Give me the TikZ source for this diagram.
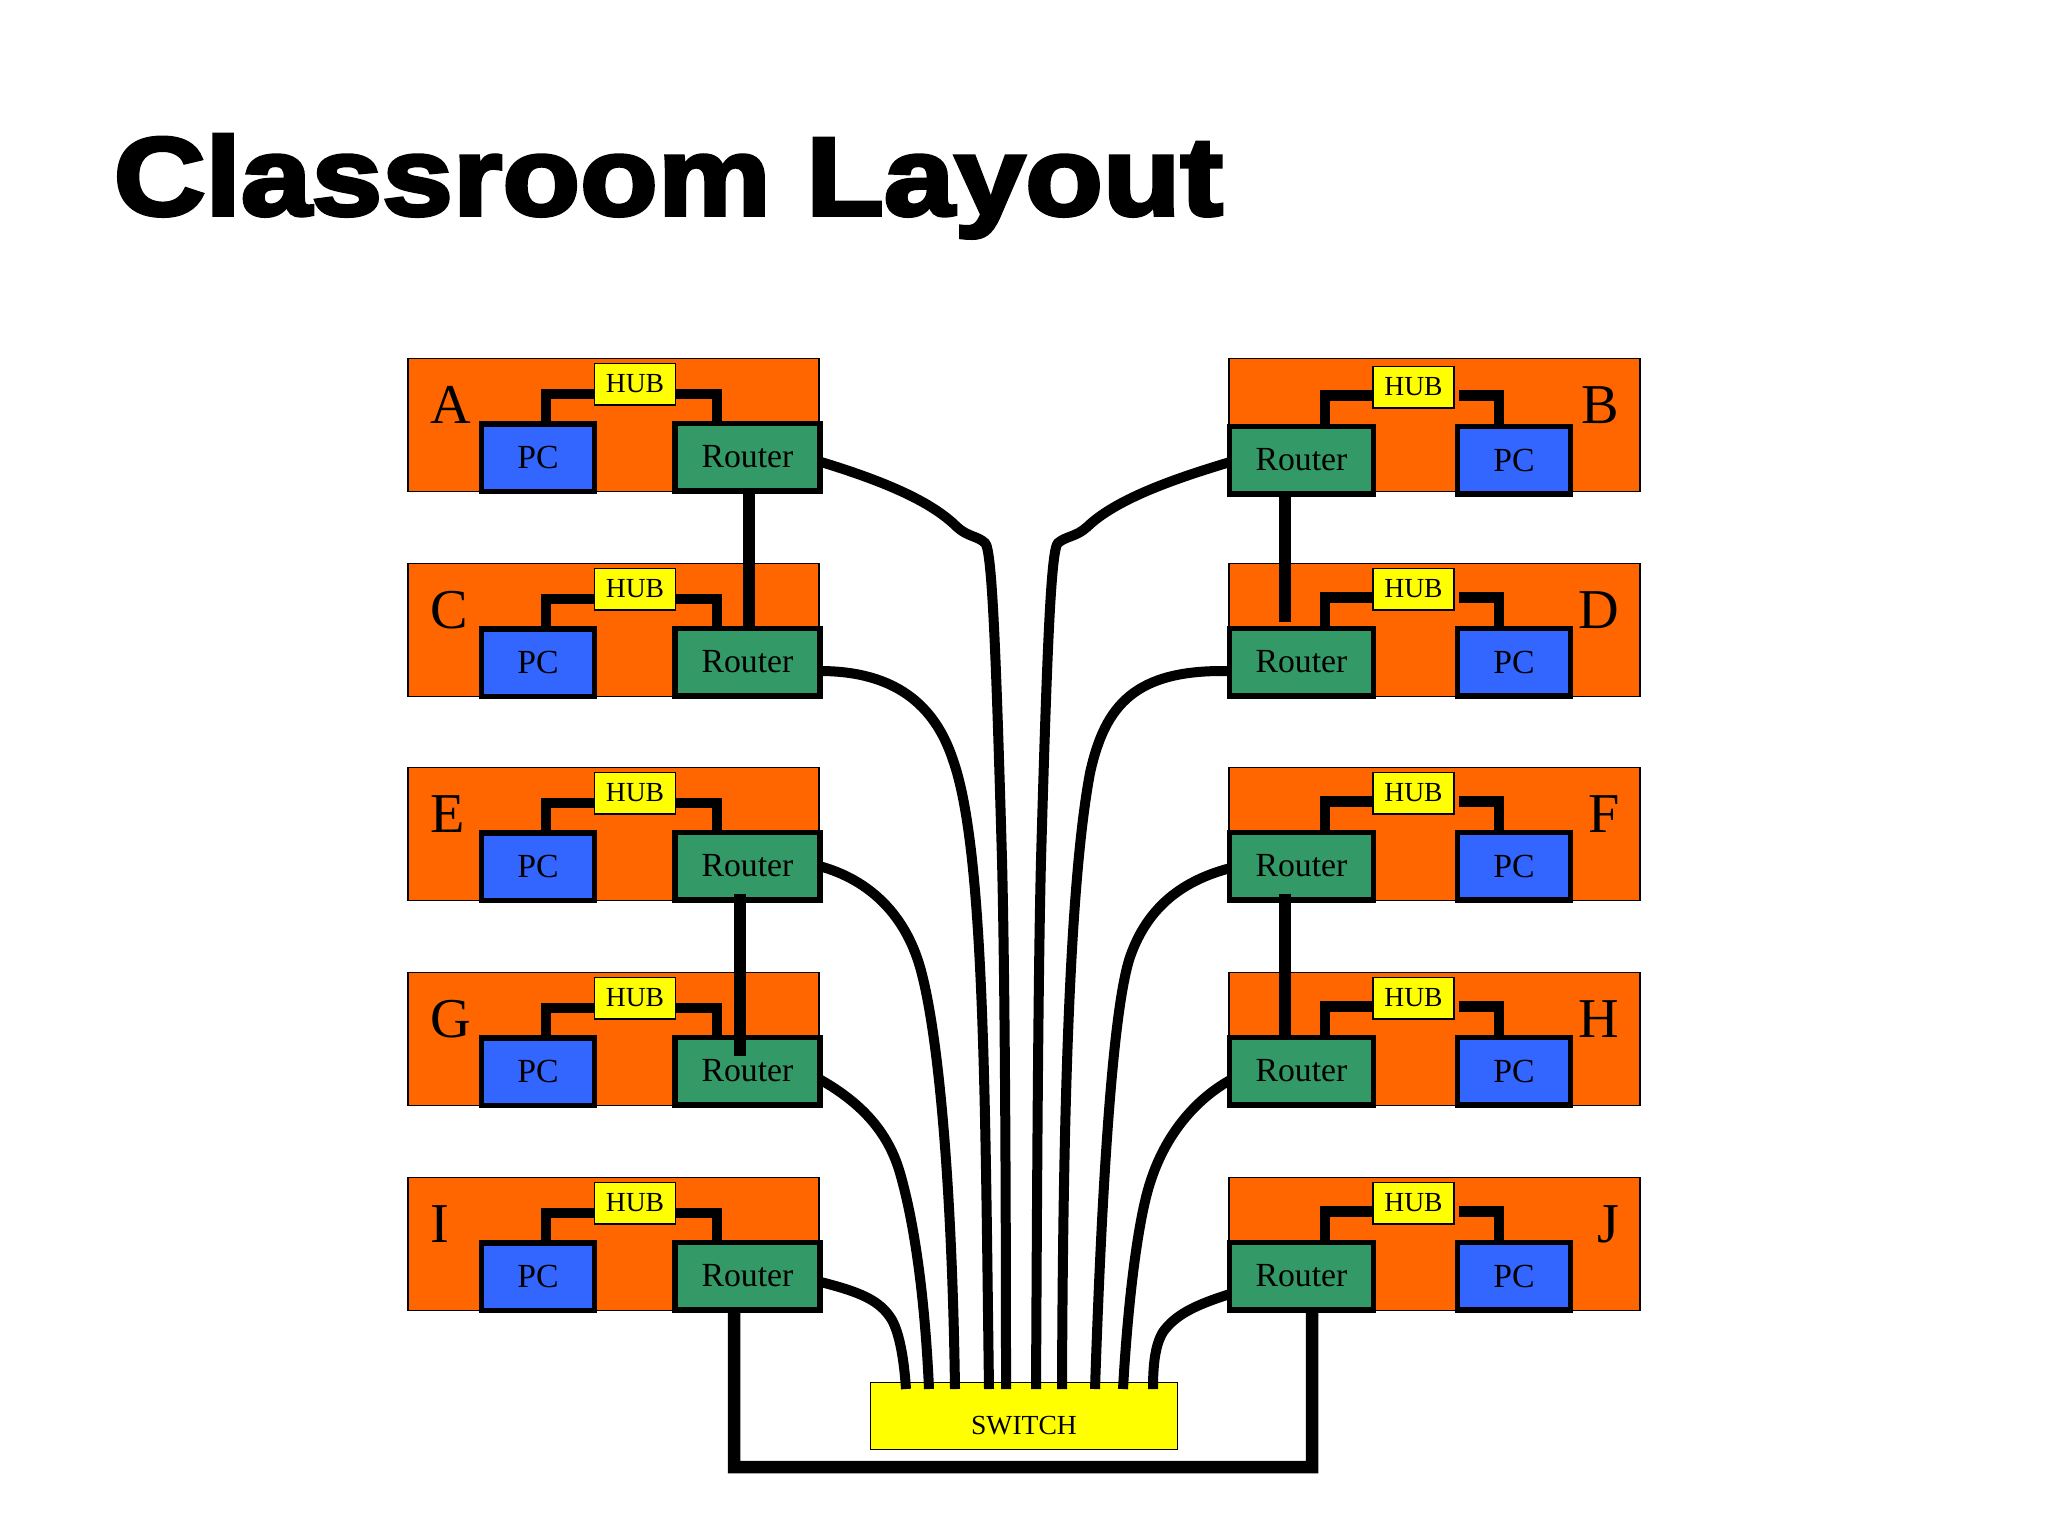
\documentclass[tikz,border=0pt]{standalone}
\usepackage{fontspec}
\setmainfont{Liberation Serif}
\newfontfamily\titlefont[BoldFeatures={FakeBold=3.5,FakeStretch=1.145}]{Liberation Sans}
\definecolor{roomorange}{HTML}{FF6600}
\definecolor{pcblue}{HTML}{3366FF}
\definecolor{routergreen}{HTML}{339966}
\definecolor{hubyellow}{rgb}{1,1,0}
\tikzset{
  roombox/.style={draw=black,fill=roomorange,line width=.15mm,minimum width=41.1mm,minimum height=13.3mm,inner sep=0pt},
  pcbox/.style={draw=black,fill=pcblue,line width=.55mm,minimum width=11.3mm,minimum height=6.75mm,inner sep=0pt,font=\fontsize{9.6}{11}\selectfont},
  routerbox/.style={pcbox,fill=routergreen,minimum width=14.5mm},
  hubbox/.style={draw=black,fill=hubyellow,line width=.15mm,minimum width=8.1mm,minimum height=4.15mm,inner sep=0pt,font=\fontsize{7.85}{9}\selectfont},
  switchbox/.style={draw=black,fill=hubyellow,line width=.15mm,minimum width=30.7mm,minimum height=6.7mm,inner sep=0pt,text height=3.6mm,text depth=0mm,font=\fontsize{7.85}{9}\selectfont},
  roomlabel/.style={inner sep=0pt,font=\fontsize{16}{18}\selectfont},
  hublink/.style={line width=1.05mm},
  uplink/.style={line width=1.25mm},
  wire/.style={line width=1mm,shorten <=-.3mm},
}
\begin{document}
\begin{tikzpicture}[x=.1mm,y=-.1mm]
  \useasboundingbox (0,0) rectangle (2048,1536);
  \node[anchor=base west,inner sep=0pt] (title) at (113,215) {\fontsize{31.6}{36}\selectfont\titlefont\bfseries Classroom Layout};

  % left column
  \foreach \name/\t in {A/358,C/563,E/767,G/972,I/1177} {
    \node[roombox] (room\name) at (613.5,\t+67) {};
    \node[roomlabel,anchor=base west] (label\name) at (430,\t+65) {\name};
    \node[pcbox] (pc\name) at (538,\t+99.5) {PC};
    \node[routerbox] (router\name) at (747.5,\t+99) {Router};
    \node[hubbox] (hub\name) at (635,\t+26) {HUB};
    \draw[hublink] ([yshift=-1mm]hub\name.west) -| ([xshift=.8mm]pc\name.north);
    \draw[hublink] ([yshift=-1mm]hub\name.east) -| ([xshift=-3.05mm]router\name.north);
  }
  % right column, B sits a little lower
  \foreach \name/\t/\d in {B/358/3,D/563/0,F/767/0,H/972/0,J/1177/0} {
    \node[roombox] (room\name) at (1434.5,\t+67) {};
    \node[roomlabel,anchor=base east] (label\name) at (1620,\t+65) {\name};
    \node[routerbox,minimum width=14.4mm] (router\name) at (1301.5,\t+99+\d) {Router};
    \node[pcbox] (pc\name) at (1514,\t+99+\d) {PC};
    \node[hubbox] (hub\name) at (1413.5,\t+26+\d) {HUB};
    \draw[hublink] ([yshift=-.85mm]hub\name.west) -| ([xshift=2.35mm]router\name.north);
    \draw[hublink] ([xshift=.4mm,yshift=-.85mm]hub\name.east) -| ([xshift=-1.5mm]pc\name.north);
  }

  \node[switchbox] (switch) at (1024,1416) {SWITCH};
  \foreach \name/\xpos in {I/906,G/929,E/955,C/989,A/1006,B/1036,D/1062,F/1095,H/1123,J/1153}
    \coordinate (port\name) at (\xpos,1389);

  % links between routers
  \draw[uplink] ([xshift=.15mm]routerA.south) -- ([xshift=.15mm]routerC.north);
  \draw[uplink,shorten >=.4mm] ([xshift=-1.65mm]routerB.south) -- ([xshift=-1.65mm]routerD.north);
  \draw[uplink,shorten <=-.9mm,shorten >=-2.1mm] ([xshift=-.75mm]routerE.south) -- ([xshift=-.75mm]routerG.north);
  \draw[uplink,shorten <=-.9mm] ([xshift=-1.65mm]routerF.south) -- ([xshift=-1.65mm]routerH.north);
  \coordinate (loopI) at (734,1467);
  \coordinate (loopJ) at (1312,1467);
  \draw[uplink] ([xshift=-1.35mm]routerI.south) -- (loopI) -- (loopJ) -- ([xshift=1.05mm]routerJ.south);

  % wires to the switch
  \draw[wire] ([yshift=-.55mm]routerA.east) .. controls (880,480) and (930,500) .. (957,527) .. controls (968,537) and (978,536) .. (985,543) .. controls (992,548) and (996,650) .. (1002,860) .. controls (1005,980) and (1006,1200) .. (portA);
  \draw[wire] ([yshift=-.9mm]routerC.east) .. controls (895,671) and (935,705) .. (953,760) .. controls (985,850) and (985,1100) .. (portC);
  \draw[wire] ([yshift=-.1mm]routerE.east) .. controls (870,880) and (905,915) .. (920,967) .. controls (938,1030) and (952,1180) .. (portE);
  \draw[wire] ([yshift=-1mm]routerG.east) .. controls (865,1105) and (889,1135) .. (900,1173) .. controls (915,1225) and (925,1300) .. (portG);
  \draw[wire] ([yshift=-.65mm]routerI.east) .. controls (860,1292) and (880,1300) .. (892,1320) .. controls (900,1335) and (904,1360) .. (portI);
  \draw[wire] ([yshift=-.3mm]routerB.west) .. controls (1170,480) and (1115,500) .. (1087,527) .. controls (1076,537) and (1066,536) .. (1058,543) .. controls (1051,548) and (1047,650) .. (1041,860) .. controls (1038,980) and (1037,1200) .. (portB);
  \draw[wire] ([yshift=-.9mm]routerD.west) .. controls (1135,669) and (1105,705) .. (1090,773) .. controls (1070,880) and (1063,1100) .. (portD);
  \draw[wire] ([yshift=-.3mm]routerF.west) .. controls (1185,880) and (1148,905) .. (1130,957) .. controls (1113,1008) and (1102,1180) .. (portF);
  \draw[wire] ([yshift=-1.1mm]routerH.west) .. controls (1195,1100) and (1165,1135) .. (1150,1183) .. controls (1138,1220) and (1128,1300) .. (portH);
  \draw[wire] ([yshift=-1.9mm]routerJ.west) .. controls (1195,1305) and (1175,1315) .. (1163,1332) .. controls (1155,1345) and (1153,1365) .. (portJ);
\end{tikzpicture}
\end{document}
